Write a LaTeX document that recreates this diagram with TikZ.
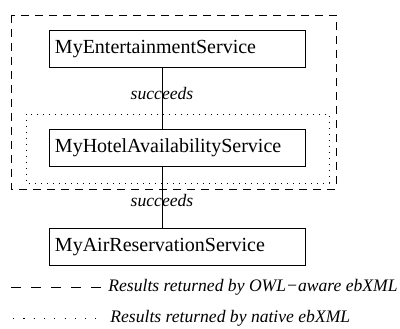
\documentclass[tikz,border=0pt]{standalone}
\usepackage{fontspec}
\setmainfont{Liberation Serif}
\usetikzlibrary{positioning}

\begin{document}
\begin{tikzpicture}[x=1pt,y=-1pt,line width=0.8pt,
	service/.style={draw, minimum height=37pt, text width=244pt, inner xsep=6pt, align=left, font=\fontsize{20}{24}\selectfont},
	rel/.style={font=\itshape\fontsize{17.6}{20}\selectfont},
	owlbox/.style={dash pattern=on 8pt off 6pt},
	nativebox/.style={dash pattern=on 1.2pt off 4.8pt},
	owlleg/.style={dash pattern=on 10pt off 10pt},
	nativeleg/.style={dash pattern=on 1.2pt off 9.1pt}]

	\useasboundingbox (0,0) rectangle (400,329);

	% Registry result sets
	\draw[owlbox] (11,15) rectangle (336,189);
	\draw[nativebox] (26,114) rectangle (329,183);

	% Services
	\node[service] (ent) at (177,49) {MyEntertainmentService};
	\node[service, below=61pt of ent] (hotel) {MyHotelAvailabilityService};
	\node[service, below=61pt of hotel] (air) {MyAirReservationService};

	% succeeds links
	\draw ([xshift=-15pt]ent.south) -- node[rel, pos=0.42] {succeeds} ([xshift=-15pt]hotel.north);
	\draw ([xshift=-15pt]hotel.south) -- node[rel, pos=0.55] {succeeds} ([xshift=-15pt]air.north);

	% Legend
	\coordinate (owlA) at (11,287);
	\coordinate (owlB) at (101,287);
	\coordinate (natA) at (13,318);
	\coordinate (natB) at (96,318);
	\draw[owlleg] (owlA) -- (owlB)
	node[rel, anchor=west, inner sep=0pt, xshift=7pt] {Results returned by OWL−aware ebXML};
	\draw[nativeleg] (natA) -- (natB)
	node[rel, anchor=west, inner sep=0pt, xshift=14pt] {Results returned by native ebXML};

\end{tikzpicture}
\end{document}
